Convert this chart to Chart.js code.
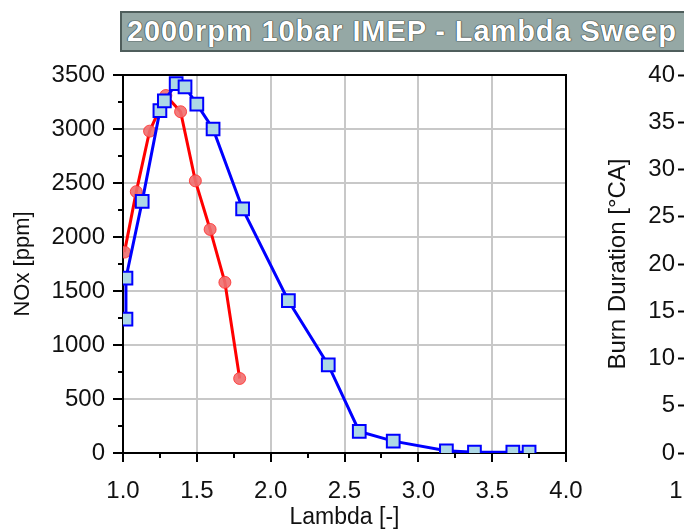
<!DOCTYPE html>
<html>
<head>
<meta charset="utf-8">
<script src="https://cdn.jsdelivr.net/npm/chart.js@4.4.1/dist/chart.umd.min.js"></script>
<style>
  html, body { margin: 0; padding: 0; background: #fff; overflow: hidden; }
  body { width: 684px; height: 532px; position: relative; }
  #main { position: absolute; left: 0; top: 0; }
  #rightWrap { position: absolute; left: 560px; top: 0; width: 124px; height: 532px; overflow: hidden; }
  #title {
    position: absolute; left: 120px; top: 11px; width: 600px; height: 37px;
    background: #95a8a5; border: 2px solid #4f5e5c;
    font: bold 29px Arial, "Liberation Sans", sans-serif; color: #fff; letter-spacing: 0.9px;
    line-height: 37px; padding-left: 5px; white-space: nowrap; box-sizing: content-box;
    text-shadow: 0 0 1px #2b3534, 0 0 1px #2b3534, 0 0 1px #2b3534;
  }
</style>
</head>
<body>
<canvas id="main" width="600" height="532"></canvas>
<div id="rightWrap"><canvas id="burnChart" width="400" height="532"></canvas></div>
<div id="title">2000rpm 10bar IMEP - Lambda Sweep</div>
<script>
// blue squares
const lambdaBlue = [1.02, 1.02, 1.13, 1.25, 1.28, 1.36, 1.42, 1.50, 1.61, 1.81, 2.12, 2.39, 2.60, 2.83, 3.19, 3.38, 3.64, 3.75];
const noxBlue = [1240, 1620, 2330, 3170, 3260, 3420, 3390, 3230, 3000, 2260, 1410, 815, 200, 110, 20, 8, 8, 8];
// red circles
const lambdaRed = [1.01, 1.09, 1.18, 1.29, 1.39, 1.49, 1.59, 1.69, 1.79];
const noxRed = [1860, 2420, 2980, 3310, 3160, 2520, 2070, 1580, 690];

const xTicks = [1.0, 1.5, 2.0, 2.5, 3.0, 3.5, 4.0];
const yTicks = [0, 500, 1000, 1500, 2000, 2500, 3000, 3500];
const burnTicks = [0, 5, 10, 15, 20, 25, 30, 35, 40];

const FONT = 'Arial, "Liberation Sans", sans-serif';

function points(xs, ys) {
    return xs.map((x, i) => ({ x: x, y: ys[i] }));
}

// short minor ticks halfway between the major ones + top/right frame
const frame = {
    id: 'frame',
    afterDraw(chart) {
        const c = chart.ctx, a = chart.chartArea;
        const x = chart.scales.x, y = chart.scales.y;
        c.save();
        c.strokeStyle = '#000';
        c.lineWidth = 2;
        c.beginPath();
        c.moveTo(a.left, a.top);
        c.lineTo(a.right, a.top);
        c.lineTo(a.right, a.bottom);
        for (let i = 0; i < xTicks.length - 1; i++) {
            const px = Math.round(x.getPixelForValue((xTicks[i] + xTicks[i + 1]) / 2));
            c.moveTo(px, a.bottom);
            c.lineTo(px, a.bottom + 5);
        }
        for (let i = 0; i < yTicks.length - 1; i++) {
            const py = Math.round(y.getPixelForValue((yTicks[i] + yTicks[i + 1]) / 2));
            c.moveTo(a.left - 5, py);
            c.lineTo(a.left, py);
        }
        c.stroke();
        c.restore();
    }
};

new Chart(document.getElementById('main'),
{
    type: 'line',
    data:
    {
        datasets: [
            {
                data: points(lambdaBlue, noxBlue),
                borderColor: '#0000ff',
                borderWidth: 3,
                pointStyle: 'rect',
                pointRadius: 9,
                pointBackgroundColor: '#add8e6',
                pointBorderColor: '#0000ff',
                pointBorderWidth: 2,
                tension: 0
            },
            {
                data: points(lambdaRed, noxRed),
                borderColor: '#ff0000',
                borderWidth: 3,
                pointStyle: 'circle',
                pointRadius: 6,
                pointBackgroundColor: 'rgba(240,110,110,0.9)',
                pointBorderColor: 'rgba(255,40,40,0.8)',
                pointBorderWidth: 1,
                tension: 0
            }
        ]
    },
    options:
    {
        responsive: false,
        animation: false,
        layout: { padding: { top: 75, right: 34, left: 0, bottom: 0 } },
        plugins: { legend: { display: false }, tooltip: { enabled: false } },
        scales:
        {
            x:
            {
                type: 'linear',
                min: 1, max: 4,
                afterBuildTicks: s => { s.ticks = xTicks.map(v => ({ value: v })); },
                afterFit: s => { s.height = 79; },
                grid: { color: '#c8c8c8', lineWidth: 2, tickColor: '#000', tickLength: 9, tickWidth: 2 },
                border: { color: '#000', width: 2 },
                ticks: { color: '#111', font: { family: FONT, size: 24 }, padding: 15, maxRotation: 0,
                         callback: v => v.toFixed(1) },
                title: { display: true, text: 'Lambda [-]', color: '#111',
                         font: { family: FONT, size: 23 }, padding: { top: 0, bottom: 1 } }
            },
            y:
            {
                min: 0, max: 3500,
                afterBuildTicks: s => { s.ticks = yTicks.map(v => ({ value: v })); },
                afterFit: s => { s.width = 123; },
                grid: { color: '#c8c8c8', lineWidth: 2, tickColor: '#000', tickLength: 10, tickWidth: 2 },
                border: { color: '#000', width: 2 },
                ticks: { color: '#111', font: { family: FONT, size: 24 }, padding: 8,
                         callback: v => String(v) },
                title: { display: true, text: 'NOx [ppm]', color: '#111',
                         font: { family: FONT, size: 22 }, padding: { top: 10, bottom: 0 } }
            }
        }
    },
    plugins: [frame]
});

// neighbouring chart, only its left axis shows
new Chart(document.getElementById('burnChart'),
{
    type: 'line',
    data: { datasets: [] },
    options:
    {
        responsive: false,
        animation: false,
        layout: { padding: { top: 75, left: 44, right: 20, bottom: 0 } },
        plugins: { legend: { display: false }, tooltip: { enabled: false } },
        scales:
        {
            x:
            {
                type: 'linear',
                min: 1, max: 4,
                afterBuildTicks: s => { s.ticks = xTicks.map(v => ({ value: v })); },
                afterFit: s => { s.height = 79; },
                grid: { drawOnChartArea: false, tickColor: '#000', tickLength: 9, tickWidth: 2 },
                border: { color: '#000', width: 2 },
                ticks: { color: '#111', font: { family: FONT, size: 24 }, padding: 15, maxRotation: 0,
                         callback: v => v.toFixed(1) }
            },
            y:
            {
                min: 0, max: 40,
                afterBuildTicks: s => { s.ticks = burnTicks.map(v => ({ value: v })); },
                afterFit: s => { s.width = 82; },
                grid: { drawOnChartArea: false, tickColor: '#000', tickLength: 8, tickWidth: 2 },
                border: { color: '#000', width: 2 },
                ticks: { color: '#111', font: { family: FONT, size: 24 }, padding: 3 },
                title: { display: true, text: 'Burn Duration [°CA]', color: '#111',
                         font: { family: FONT, size: 24 }, padding: { top: 0, bottom: 0 } }
            }
        }
    }
});
</script>
</body>
</html>
